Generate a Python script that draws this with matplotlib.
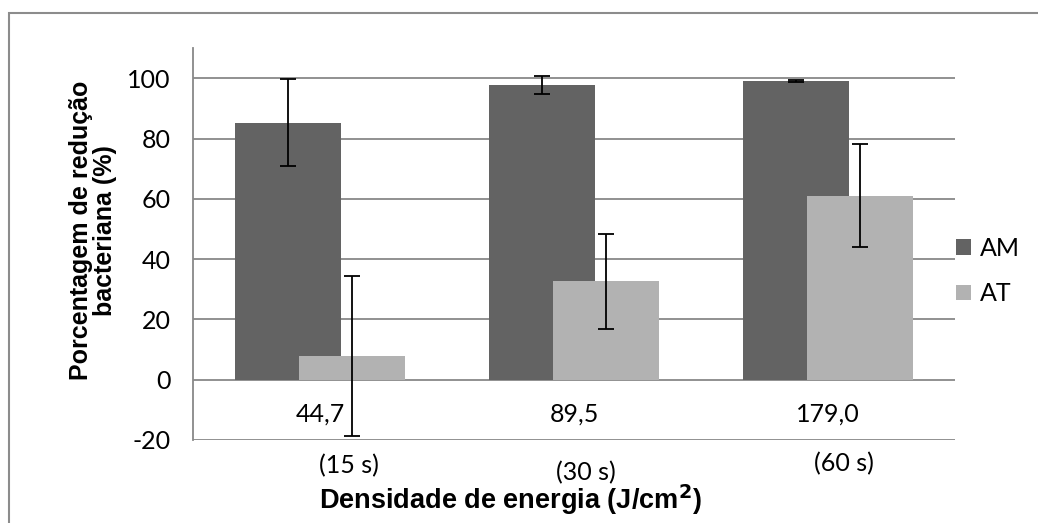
import numpy as np
import matplotlib
matplotlib.use('Agg')
import matplotlib.pyplot as plt
from matplotlib.patches import Rectangle
from matplotlib.transforms import blended_transform_factory

# dados
energias = ['44,7', '89,5', '179,0']
tempos = ['(15 s)', '(30 s)', '(60 s)']
am = [85.3, 97.7, 99.1]
am_err = [14.5, 2.9, 0.3]
at = [7.9, 32.6, 61.1]
at_err = [26.5, 15.8, 17.2]

plt.rcParams['font.family'] = ['Lato', 'DejaVu Sans']
plt.rcParams['axes.unicode_minus'] = False

fig = plt.figure(figsize=(10.38, 5.23), dpi=100)
ax = fig.add_axes([0.186, 0.1587, 0.734, 0.7493])

x = np.arange(len(energias))
w = 0.42
off = 0.126

ax.bar(x - off, am, w, color='#636363', label='AM', zorder=2)
ax.bar(x + off, at, w, color='#b2b2b2', label='AT', zorder=3)
ax.errorbar(x - off, am, yerr=am_err, fmt='none', ecolor='black',
            elinewidth=1.3, capsize=6, capthick=1.3, zorder=4)
ax.errorbar(x + off, at, yerr=at_err, fmt='none', ecolor='black',
            elinewidth=1.3, capsize=6, capthick=1.3, zorder=4)

ax.set_xlim(-0.5, 2.5)
ax.set_ylim(-20, 110)
ax.set_yticks(range(-20, 101, 20))
ax.tick_params(axis='y', length=0, labelsize=18, pad=16)
ax.yaxis.grid(True, color='#888888', linewidth=1.3, zorder=0)
ax.set_axisbelow(True)
for s in ['top', 'right', 'bottom']:
    ax.spines[s].set_visible(False)
ax.spines['left'].set_color('#888888')
ax.spines['left'].set_linewidth(1.3)

ax.set_xticks(x, energias)
ax.tick_params(axis='x', length=0, labelsize=18, pad=-27)

# rótulos de tempo
tr = blended_transform_factory(ax.transData, fig.transFigure)
tempo_x = [0.114, 1.047, 2.063]
tempo_y = [0.109, 0.097, 0.114]
for tx, ty, t in zip(tempo_x, tempo_y, tempos):
    ax.text(tx, ty, t, transform=tr, ha='center', va='center', fontsize=18)

fig.text(0.492, 0.045, 'Densidade de energia (J/cm$^{\\mathbf{2}}$)',
         ha='center', va='center', fontsize=19.5, fontweight='bold',
         family=['Liberation Sans', 'DejaVu Sans'])
fig.text(0.09, 0.56, 'Porcentagem de redução\nbacteriana (%)', rotation=90,
         ha='center', va='center', fontsize=18, fontweight='bold',
         family=['Liberation Sans', 'DejaVu Sans'], linespacing=1.0)

ax.legend(loc='center left', bbox_to_anchor=(1.002, 0.431), frameon=False,
          fontsize=18, handlelength=0.6, handleheight=0.6, handletextpad=0.32,
          labelspacing=0.9, borderaxespad=0.0, borderpad=0.0)

fig.patches.append(Rectangle((9 / 1038, -0.1), 1.2, 1.1 - 13 / 523,
                             transform=fig.transFigure, fill=False,
                             edgecolor='#8c8c8c', linewidth=1.5))

fig.savefig('out.png', dpi=100)
